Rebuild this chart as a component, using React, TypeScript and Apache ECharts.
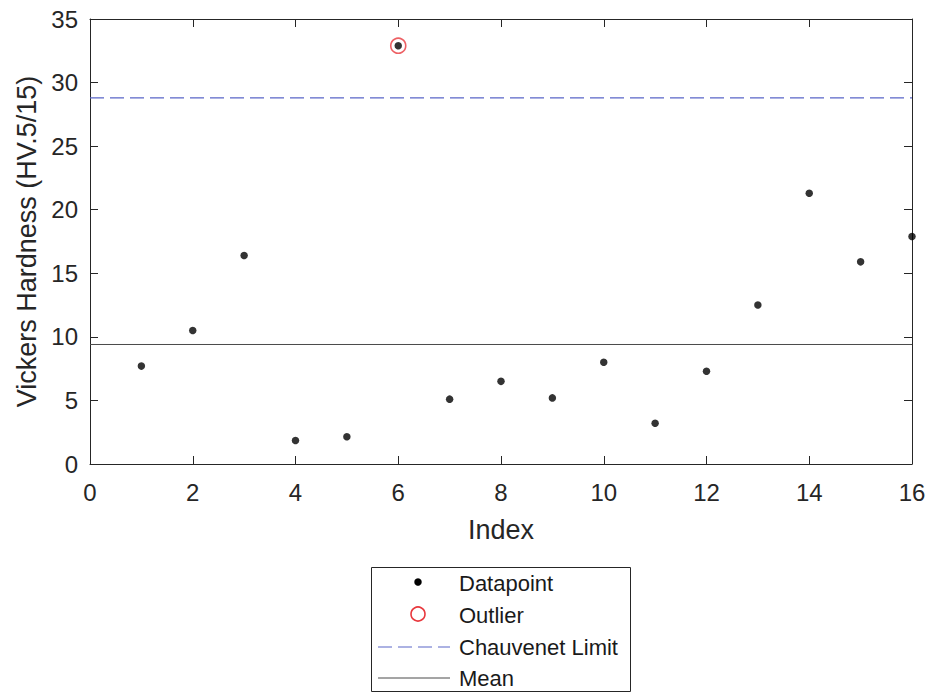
import React, { useEffect, useRef } from "react";
import * as echarts from "echarts";

const indices = [1, 2, 3, 4, 5, 6, 7, 8, 9, 10, 11, 12, 13, 14, 15, 16];
const hardness = [7.7, 10.5, 16.4, 1.85, 2.15, 32.9, 5.1, 6.5, 5.2, 8.0, 3.2, 7.3, 12.5, 21.3, 15.9, 17.9];
const outlierIdx = [6];
const outlierVal = [32.9];
const meanValue = 9.4;
const chauvenetLimit = 28.8;
const xRange = [0, 16];
const legendNames = ["Datapoint", "Outlier", "Chauvenet Limit", "Mean"];

const FONT = "'Liberation Sans', Arial, Helvetica, sans-serif";
const AX = "#262626";
const BLUE = "#5a66c8";
const RED = "#e8383d";

export default function App() {
  const ref = useRef<HTMLDivElement>(null);
  useEffect(() => {
    if (!ref.current) return;
    const chart = echarts.init(ref.current, undefined, { renderer: "svg" });
    const axisCommon = {
      type: "value" as const,
      axisLine: { show: true, onZero: false, lineStyle: { color: AX, width: 1 } },
      axisTick: { show: true, inside: true, length: 8, lineStyle: { color: AX } },
      splitLine: { show: false },
    };
    const lx = 371, ly = 567, lw = 259, lh = 124;
    const rowY = [583, 615, 647, 678];
    const iconX = 418;
    const textX = 459;
    chart.setOption({
      animation: false,
      backgroundColor: "#ffffff",
      grid: { left: 90, top: 19, right: 20, bottom: 228, containLabel: false },
      xAxis: [
        {
          ...axisCommon,
          min: 0, max: 16, interval: 2,
          position: "bottom",
          name: "Index",
          nameLocation: "middle",
          nameGap: 52,
          nameTextStyle: { fontFamily: FONT, fontSize: 27, color: AX },
          axisLabel: { fontFamily: FONT, fontSize: 24, color: AX, margin: 16 },
        },
        {
          ...axisCommon,
          min: 0, max: 16, interval: 2,
          position: "top",
          axisLabel: { show: false },
        },
      ],
      yAxis: [
        {
          ...axisCommon,
          min: 0, max: 35, interval: 5,
          position: "left",
          name: "Vickers Hardness (HV.5/15)",
          nameLocation: "middle",
          nameGap: 45,
          nameTextStyle: { fontFamily: FONT, fontSize: 27, color: AX },
          axisLabel: { fontFamily: FONT, fontSize: 24, color: AX, margin: 12 },
        },
        {
          ...axisCommon,
          min: 0, max: 35, interval: 5,
          position: "right",
          axisLabel: { show: false },
        },
      ],
      series: [
        {
          name: "Mean",
          type: "line",
          data: xRange.map((x) => [x, meanValue]),
          symbol: "none",
          lineStyle: { color: "#4a4a4a", width: 1 },
          silent: true,
        },
        {
          name: "Chauvenet Limit",
          type: "line",
          data: xRange.map((x) => [x, chauvenetLimit]),
          symbol: "none",
          lineStyle: { color: BLUE, width: 1.2, type: [14, 6] },
          silent: true,
        },
        {
          name: "Outlier",
          type: "scatter",
          data: outlierIdx.map((x, i) => [x, outlierVal[i]]),
          symbol: "circle",
          symbolSize: 15,
          itemStyle: { color: "rgba(0,0,0,0)", borderColor: RED, borderWidth: 1.6 },
          z: 3,
        },
        {
          name: "Datapoint",
          type: "scatter",
          data: indices.map((x, i) => [x, hardness[i]]),
          symbol: "circle",
          symbolSize: 7.5,
          itemStyle: { color: "#000000" },
          z: 4,
        },
      ],
      graphic: [
        {
          type: "rect",
          shape: { x: lx + 0.5, y: ly + 0.5, width: lw, height: lh },
          style: { fill: "#ffffff", stroke: AX, lineWidth: 1 },
        },
        {
          type: "circle",
          shape: { cx: iconX, cy: rowY[0] - 1, r: 3.75 },
          style: { fill: "#000000" },
        },
        {
          type: "circle",
          shape: { cx: iconX, cy: rowY[1] - 1, r: 7 },
          style: { fill: "none", stroke: RED, lineWidth: 1.6 },
        },
        {
          type: "line",
          shape: { x1: 378, y1: rowY[2], x2: 450, y2: rowY[2] },
          style: { stroke: BLUE, lineWidth: 1.2, lineDash: [14, 6] },
        },
        {
          type: "line",
          shape: { x1: 378, y1: rowY[3], x2: 450, y2: rowY[3] },
          style: { stroke: "#4a4a4a", lineWidth: 1 },
        },
        ...legendNames.map((name, i) => ({
          type: "text",
          x: textX,
          y: rowY[i],
          style: {
            text: name,
            font: `22px ${FONT}`,
            fill: "#1a1a1a",
            textVerticalAlign: "middle",
            verticalAlign: "middle",
          },
        })),
      ],
    });
    return () => chart.dispose();
  }, []);
  return <div ref={ref} style={{ width: 932, height: 692, position: "absolute", left: 0, top: 0 }} />;
}
